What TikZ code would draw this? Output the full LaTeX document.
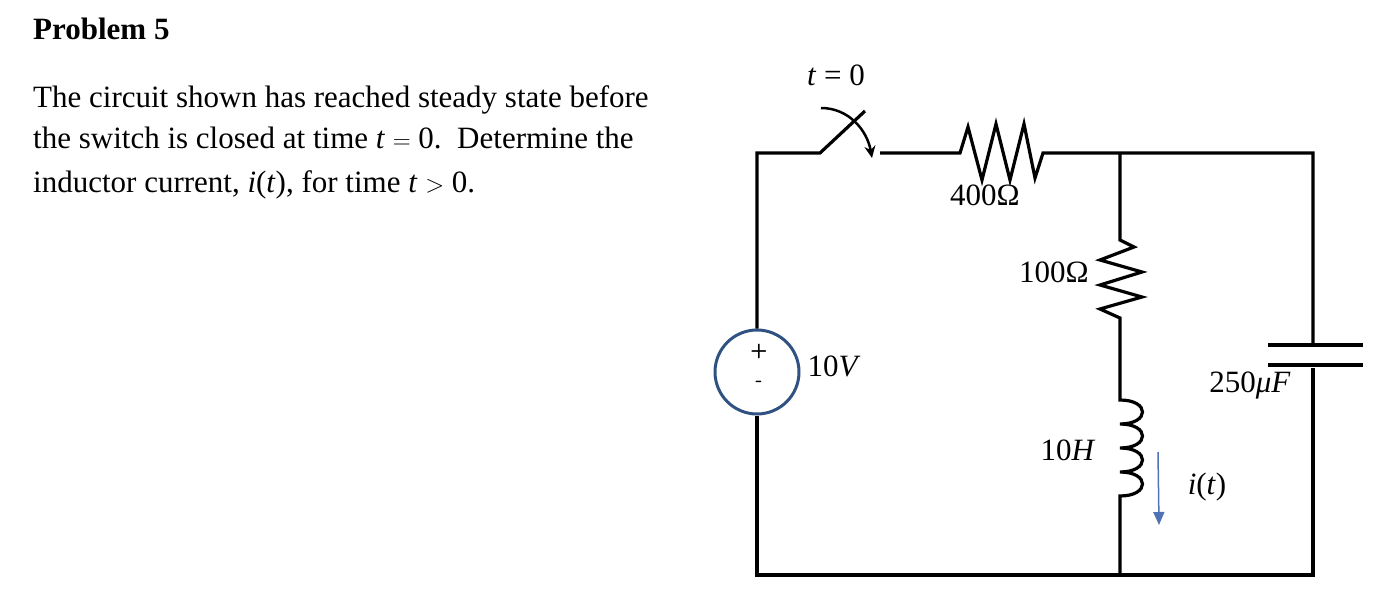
\documentclass[tikz,border=0pt]{standalone}
\usepackage{fontspec}
\setmainfont{Liberation Serif}
\usetikzlibrary{arrows.meta}
\definecolor{srcblue}{RGB}{47,82,130}
\definecolor{arrblue}{RGB}{79,114,180}
\begin{document}
\begin{tikzpicture}[x=1pt,y=-1pt,
  wire/.style={line width=3.2pt,line join=miter},
  lbl/.style={font=\fontsize{31}{34}\selectfont},
  txt/.style={font=\fontsize{31}{36}\selectfont,anchor=base west,inner sep=0}]
\useasboundingbox (0,0) rectangle (1387,607);
\node[txt,font=\fontsize{31}{33}\selectfont\bfseries] (title) at (33,40) {Problem 5};
\node[txt] (l1) at (33,108) {The circuit shown has reached steady state before};
\node[txt] (l2) at (33,149) {the switch is closed at time \textit{t} $=$ 0.\ \ Determine the};
\node[txt] (l3) at (33,192) {inductor current, \textit{i}(\textit{t}), for time \textit{t} $>$ 0.};
% nodes/coords
\coordinate (tl) at (757,153);
\coordinate (bl) at (757,575);
\coordinate (br) at (1315,575);
\coordinate (tr) at (1313,153);
\coordinate (mb) at (1120,575);
\coordinate (mt) at (1120,153);
\node[circle,draw=srcblue,line width=3pt,minimum size=84pt,inner sep=0] (src) at (757,372) {};
\node[font=\sffamily\bfseries\fontsize{20}{20}\selectfont] (plus) at (759,351) {+};
\node[font=\sffamily\bfseries\fontsize{20}{20}\selectfont] (minus) at (759,384) {-};
% left side and switch
\draw[wire] (src.north) -- (tl) -- (820,153) -- (865,111);
\draw[line width=2.5pt,-{Stealth[length=12pt,width=11pt]}] (821,108) to[out=0,in=100] (872,158);
\draw[wire] (880,153) -- (960,153) -- (968,127) -- (982,180) -- (996,124) -- (1010,180) -- (1024,124) -- (1035,178) -- (1043,153) -- (tr) -- (1313,345);
\draw[wire] (1268,345) -- (1363,345);
\draw[wire] (1268,365) -- (1363,365);
\draw[wire] (1313,368) -- (1313,575);
\draw[wire] (src.south) -- (bl) -- (br);
% middle branch
\draw[wire] (mt) -- (1120,240) -- (1134,247) -- (1100,260) -- (1142,272) -- (1100,285) -- (1142,297) -- (1100,309) -- (1120,318) -- (1120,400)
 .. controls (1150,400) and (1150,424) .. (1120,424)
 .. controls (1150,424) and (1150,448) .. (1120,448)
 .. controls (1150,448) and (1150,472) .. (1120,472)
 .. controls (1150,472) and (1150,496) .. (1120,496) -- (mb);
\draw[line width=1.5pt,arrblue,-{Triangle[length=13pt,width=11pt]}] (1158,452) -- (1159,525);
% labels
\node[lbl] (t0) at (836,75) {\textit{t} = 0};
\node[lbl] (r1) at (985,195) {400Ω};
\node[lbl] (r2) at (1054,272) {100Ω};
\node[lbl] (vs) at (834,366) {10\textit{V}};
\node[lbl] (cl) at (1250,386) {250\textit{μF}};
\node[lbl] (ll) at (1068,450) {10\textit{H}};
\node[lbl] (il) at (1207,487) {\textit{i}(\textit{t})};
\end{tikzpicture}
\end{document}
